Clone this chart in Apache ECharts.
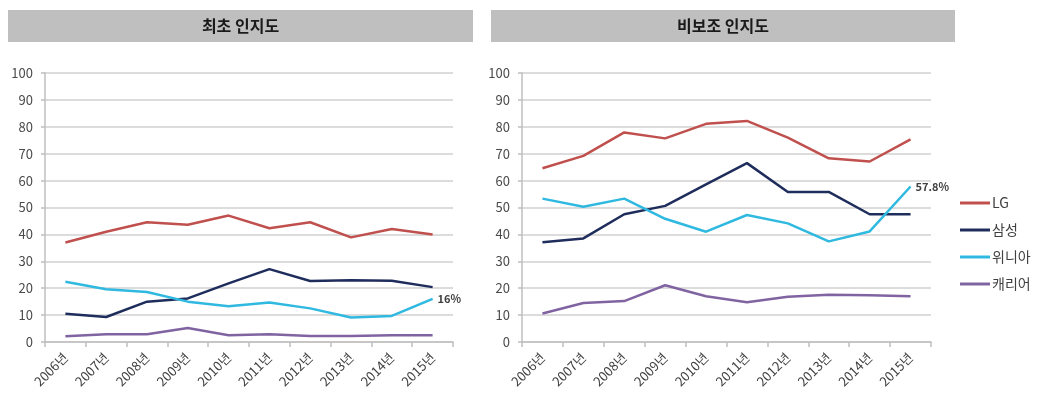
<!DOCTYPE html>
<html>
<head>
<meta charset="utf-8">
<script src="https://cdn.jsdelivr.net/npm/echarts@6/dist/echarts.min.js"></script>
<style>
  html, body { margin: 0; padding: 0; background: #fff; }
  #chart { width: 1039px; height: 407px; }
</style>
</head>
<body>
<div id="chart"></div>
<script>
// 연도
const years = ["2006년", "2007년", "2008년", "2009년", "2010년", "2011년", "2012년", "2013년", "2014년", "2015년"];
const seriesNames = ["LG", "삼성", "위니아", "캐리어"];

// 최초 인지도
const firstLG = [37, 41, 44.5, 43.6, 47, 42.3, 44.5, 38.9, 42, 40];
const firstSamsung = [10.5, 9.3, 15, 16.2, 21.8, 27.1, 22.7, 23, 22.8, 20.4];
const firstWinia = [22.4, 19.6, 18.6, 15, 13.3, 14.7, 12.5, 9.1, 9.7, 16];
const firstCarrier = [2.1, 2.9, 2.9, 5.2, 2.5, 2.9, 2.2, 2.2, 2.5, 2.5];

// 비보조 인지도
const unaidedLG = [64.6, 69.2, 77.9, 75.7, 81.1, 82.2, 76, 68.3, 67.1, 75.3];
const unaidedSamsung = [37.1, 38.5, 47.5, 50.6, 58.6, 66.5, 55.8, 55.8, 47.5, 47.5];
const unaidedWinia = [53.3, 50.3, 53.3, 45.8, 41, 47.2, 44.1, 37.4, 41.1, 57.8];
const unaidedCarrier = [10.6, 14.5, 15.2, 21.1, 17, 14.8, 16.8, 17.6, 17.4, 17];

const yTicks = [0, 100, 10]; // min, max, interval

const colors = ["#c0504d", "#1f2d5c", "#2fb9e0", "#8064a2"];
const font = "'Noto Sans CJK KR', sans-serif";

const chart = echarts.init(document.getElementById("chart"));

function makeSeries(idx, data) {
  const sets = [data.lg, data.ss, data.wn, data.ca];
  return sets.map((d, i) => ({
    name: seriesNames[i],
    type: "line",
    xAxisIndex: idx,
    yAxisIndex: idx,
    symbol: "none",
    color: colors[i],
    lineStyle: { width: 2.5, color: colors[i] },
    // 위니아만 끝값 표시
    endLabel: {
      show: i === 2, formatter: "{c}%", distance: 5,
      fontFamily: font, fontSize: 11, fontWeight: "bold", color: "#404040"
    },
    data: d,
    z: 3
  }));
}

function xAxis(idx) {
  return {
    type: "category",
    gridIndex: idx,
    data: years,
    axisLine: { lineStyle: { color: "#bfbfbf", width: 1.5 } },
    axisTick: { show: true, length: 5, lineStyle: { color: "#bfbfbf", width: 1.5 } },
    axisLabel: { rotate: 45, fontFamily: font, fontSize: 13, color: "#404040", margin: 13 }
  };
}

function yAxis(idx) {
  return {
    type: "value",
    gridIndex: idx,
    min: yTicks[0], max: yTicks[1], interval: yTicks[2],
    axisLine: { show: true, lineStyle: { color: "#bfbfbf", width: 1.5 } },
    axisTick: { show: true, length: 4, lineStyle: { color: "#bfbfbf", width: 1.5 } },
    axisLabel: { fontFamily: font, fontSize: 13, color: "#4a4a4a", margin: 12 },
    splitLine: { lineStyle: { color: "#d0d0d0", width: 1.5 } }
  };
}

function titleBox(x, w, text) {
  return {
    type: "group",
    left: x, top: 10,
    children: [
      { type: "rect", shape: { x: 0, y: 0, width: w, height: 32 }, style: { fill: "#bfbfbf" } },
      {
        type: "text", x: w / 2, y: 16,
        style: {
          text: text, fill: "#1a1a1a", font: "bold 16px " + font,
          textAlign: "center", textVerticalAlign: "middle"
        }
      }
    ]
  };
}

const option = {
  animation: false,
  backgroundColor: "#fff",
  graphic: [titleBox(8, 465, "최초 인지도"), titleBox(491, 464, "비보조 인지도")],
  grid: [
    { left: 45, top: 73, width: 408, height: 269 },
    { left: 522, top: 73, width: 409, height: 269 }
  ],
  legend: {
    data: seriesNames,
    orient: "vertical",
    left: 955, top: 191,
    itemGap: 13,
    itemWidth: 30, itemHeight: 3,
    icon: "rect",
    textStyle: { fontFamily: font, fontSize: 14, color: "#404040", padding: [0, 0, 0, -3] }
  },
  xAxis: [xAxis(0), xAxis(1)],
  yAxis: [yAxis(0), yAxis(1)],
  series: [
    ...makeSeries(0, { lg: firstLG, ss: firstSamsung, wn: firstWinia, ca: firstCarrier }),
    ...makeSeries(1, { lg: unaidedLG, ss: unaidedSamsung, wn: unaidedWinia, ca: unaidedCarrier })
  ]
};

chart.setOption(option);
</script>
</body>
</html>
